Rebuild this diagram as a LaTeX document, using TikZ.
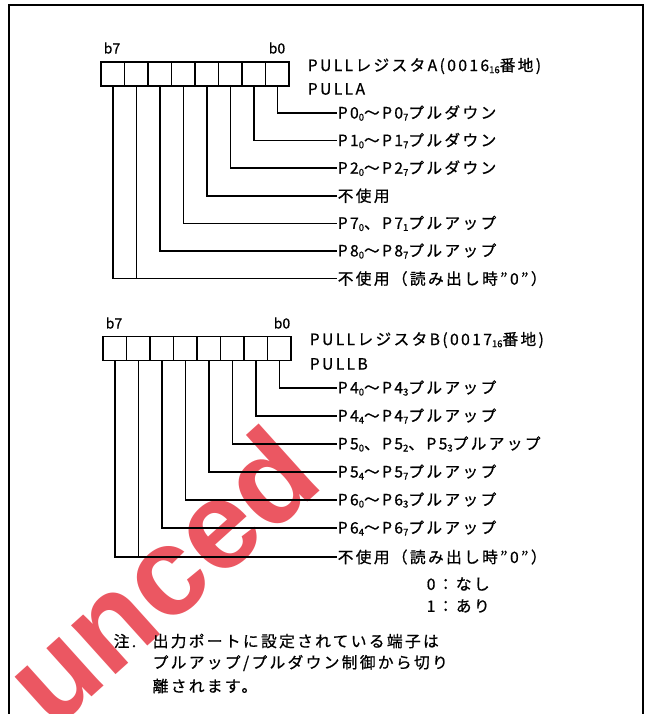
\documentclass[tikz,border=0pt]{standalone}
\usepackage{fontspec}
\setmainfont[LetterSpace=15,FakeBold=0.8]{Noto Sans CJK JP}
\newfontfamily\plainfont[FakeBold=0.8]{Noto Sans CJK JP}
\newfontfamily\wmfont{Liberation Sans}
\newcommand{\lsub}[1]{\raisebox{-0.25ex}{\plainfont\fontsize{9.5}{9.5}\selectfont #1}}
\definecolor{wmred}{RGB}{232,58,70}
\begin{document}
\begin{tikzpicture}[x=1pt,y=-1pt,line width=1.5pt,
  lbl/.style={anchor=west,inner sep=0pt,font=\fontsize{15.7}{17}\selectfont},
  bitlbl/.style={inner sep=0pt,font=\plainfont\fontsize{14}{15}\selectfont},
  reg/.style={draw,minimum width=188pt,minimum height=24pt,inner sep=0pt,outer sep=0pt,line width=1.5pt},
  wire/.style={line width=1.5pt}]
\useasboundingbox (0,0) rectangle (649,714);
% watermark
\begin{scope}
\clip (0,0) rectangle (649,714);
\node[rotate=42,text=wmred,opacity=0.85,font=\wmfont\bfseries\fontsize{125}{125}\selectfont,inner sep=0pt] (wm) at (160,575) {unced};
\end{scope}
% frame
\draw[line width=1.3pt] (9,714) -- (9,5) -- (643,5) -- (643,714);
% ---------- register A ----------
\node[reg] (ra) at (195,74) {};
\foreach \i in {1,...,7} \draw[wire] ({101+23.5*\i},62) -- ({101+23.5*\i},86);
\foreach \i in {0,...,7} \coordinate (a\i) at ({277.25-23.5*\i},86);
\node[bitlbl] (a7l) at (112,48) {b7};
\node[bitlbl] (a0l) at (277,48) {b0};
\node[lbl] (ta) at (307,66) {PULLレジスタA(0016\lsub{16}番地)};
\node[lbl] (tap) at (307,89) {PULLA};
\node[lbl] (la0) at (337,113) {P0\lsub{0}～P0\lsub{7}プルダウン};
\node[lbl] (la1) at (337,140.6) {P1\lsub{0}～P1\lsub{7}プルダウン};
\node[lbl] (la2) at (337,168.2) {P2\lsub{0}～P2\lsub{7}プルダウン};
\node[lbl] (la3) at (337,195.8) {不使用};
\node[lbl] (la4) at (337,223.4) {P7\lsub{0}、P7\lsub{1}プルアップ};
\node[lbl] (la5) at (337,251) {P8\lsub{0}～P8\lsub{7}プルアップ};
\node[lbl] (la6) at (337,278.6) {不使用（読み出し時"0"）};
\foreach \i in {0,...,6} \draw[wire] (a\i) |- (la\i.west);
\draw[wire] (a7) |- (la6.west);
% ---------- register B ----------
\node[reg] (rb) at (197,348.5) {};
\foreach \i in {1,...,7} \draw[wire] ({103+23.5*\i},336.5) -- ({103+23.5*\i},360.5);
\foreach \i in {0,...,7} \coordinate (b\i) at ({279.25-23.5*\i},360.5);
\node[bitlbl] (b7l) at (114,323) {b7};
\node[bitlbl] (b0l) at (282,323) {b0};
\node[lbl] (tb) at (309,340) {PULLレジスタB(0017\lsub{16}番地)};
\node[lbl] (tbp) at (309,364) {PULLB};
\node[lbl] (lb0) at (337,388) {P4\lsub{0}～P4\lsub{3}プルアップ};
\node[lbl] (lb1) at (337,416) {P4\lsub{4}～P4\lsub{7}プルアップ};
\node[lbl] (lb2) at (337,444) {P5\lsub{0}、P5\lsub{2}、P5\lsub{3}プルアップ};
\node[lbl] (lb3) at (337,472) {P5\lsub{4}～P5\lsub{7}プルアップ};
\node[lbl] (lb4) at (337,500) {P6\lsub{0}～P6\lsub{3}プルアップ};
\node[lbl] (lb5) at (337,528) {P6\lsub{4}～P6\lsub{7}プルアップ};
\node[lbl] (lb6) at (337,557) {不使用（読み出し時"0"）};
\foreach \i in {0,...,6} \draw[wire] (b\i) |- (lb\i.west);
\draw[wire] (b7) |- (lb6.west);
\node[lbl] (k0) at (426,584) {0：なし};
\node[lbl] (k1) at (426,606) {1：あり};
% ---------- note ----------
\node[lbl] (nt) at (113,641) {注.};
\node[lbl] (n1) at (152,641) {出力ポートに設定されている端子は};
\node[lbl] (n2) at (152,663) {プルアップ/プルダウン制御から切り};
\node[lbl] (n3) at (152,686) {離されます。};
\end{tikzpicture}
\end{document}
